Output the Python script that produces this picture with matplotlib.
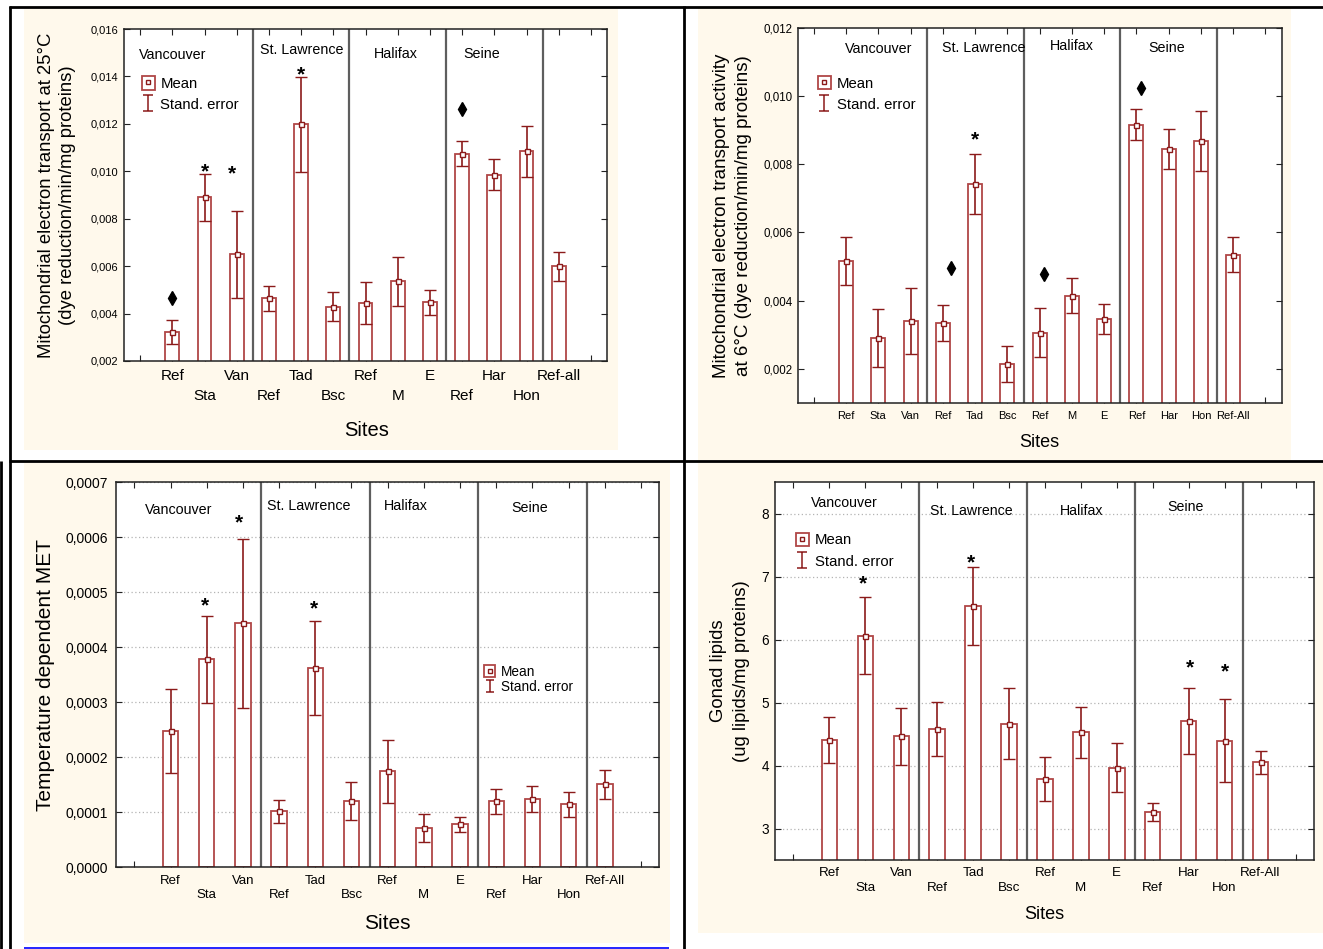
import matplotlib
matplotlib.use('Agg')
import matplotlib.pyplot as plt
import matplotlib.transforms as mtransforms
from matplotlib.patches import Rectangle
from matplotlib.lines import Line2D
from matplotlib.path import Path
from matplotlib.legend_handler import HandlerTuple
import numpy as np

plt.rcParams['font.family'] = ['Liberation Sans', 'DejaVu Sans']

# ---------------- data ----------------
groups = ['Vancouver', 'St. Lawrence', 'Halifax', 'Seine']

sites_a = ['Ref', 'Sta', 'Van', 'Ref', 'Tad', 'Bsc', 'Ref', 'M', 'E', 'Ref', 'Har', 'Hon', 'Ref-all']
sites_b = ['Ref', 'Sta', 'Van', 'Ref', 'Tad', 'Bsc', 'Ref', 'M', 'E', 'Ref', 'Har', 'Hon', 'Ref-All']

# A: Mitochondrial electron transport at 25C
met25_mean = [0.003215, 0.00890, 0.00650, 0.00464, 0.01198, 0.004285, 0.004455,
              0.00537, 0.004475, 0.010745, 0.00986, 0.01085, 0.005985]
met25_se = [0.000515, 0.00099, 0.001825, 0.00054, 0.00199, 0.000615, 0.000895,
            0.00103, 0.000535, 0.000515, 0.00067, 0.00107, 0.000605]
met25_star_idx = [2, 2.85, 5]
met25_star_y = [0.01024, 0.01016, 0.01432]
met25_diam_idx = [1, 10]
met25_diam_y = [0.00467, 0.01264]
met25_yticks = [0.002, 0.004, 0.006, 0.008, 0.010, 0.012, 0.014, 0.016]
met25_yticklabels = ['0,002', '0,004', '0,006', '0,008', '0,010', '0,012', '0,014', '0,016']

# B: Mitochondrial electron transport activity at 6C
met6_mean = [0.00516, 0.002905, 0.00340, 0.00334, 0.00742, 0.002135, 0.00305,
             0.00414, 0.003465, 0.00916, 0.00845, 0.00869, 0.00535]
met6_se = [0.000695, 0.000845, 0.00097, 0.00053, 0.00088, 0.000525, 0.00072,
           0.00051, 0.000445, 0.00045, 0.00059, 0.00088, 0.00050]
met6_star_idx = [5]
met6_star_y = [0.0089]
met6_diam_idx = [4.25, 7.15, 10.15]
met6_diam_y = [0.00496, 0.00478, 0.01024]
met6_yticks = [0.002, 0.004, 0.006, 0.008, 0.010, 0.012]
met6_yticklabels = ['0,002', '0,004', '0,006', '0,008', '0,010', '0,012']

# C: Temperature dependent MET
tdm_mean = [0.0002476, 0.0003782, 0.000444, 0.0001018, 0.0003619, 0.0001203, 0.0001743,
            0.0000715, 0.0000785, 0.000120, 0.0001243, 0.0001143, 0.0001509]
tdm_se = [0.0000767, 0.0000794, 0.0001537, 0.0000212, 0.0000855, 0.0000343, 0.0000573,
          0.0000255, 0.0000135, 0.000023, 0.0000243, 0.0000233, 0.0000261]
tdm_star_idx = [1.95, 2.9, 4.95]
tdm_star_y = [0.000487, 0.000637, 0.000481]
tdm_yticks = [0.0, 0.0001, 0.0002, 0.0003, 0.0004, 0.0005, 0.0006, 0.0007]
tdm_yticklabels = ['0,0000', '0,0001', '0,0002', '0,0003', '0,0004', '0,0005', '0,0006', '0,0007']

# D: Gonad lipids
lip_mean = [4.408, 6.062, 4.4635, 4.58, 6.5335, 4.6675, 3.782, 4.53, 3.9625,
            3.2625, 4.7075, 4.3975, 4.05]
lip_se = [0.363, 0.612, 0.45, 0.43, 0.6235, 0.56, 0.347, 0.405, 0.39,
          0.1455, 0.53, 0.6655, 0.1855]
lip_star_idx = [1.93, 4.95, 11.05, 12]
lip_star_y = [6.98, 7.32, 5.65, 5.59]
lip_yticks = [3, 4, 5, 6, 7, 8]
lip_yticklabels = ['3', '4', '5', '6', '7', '8']

# ---------------- style ----------------
W, H = 1323, 949
CREAM = '#FFF9EC'
BAR_EC = '#B04646'
ERR_C = '#8B1A1A'
SEP_C = '#5E5E5E'

fig = plt.figure(figsize=(W / 100, H / 100), dpi=100)
fig.patch.set_facecolor('white')


def frect(x0, y0, x1, y1):
    return [x0 / W, 1 - y1 / H, (x1 - x0) / W, (y1 - y0) / H]


def bg(x0, y0, x1, y1, color=CREAM):
    r = Rectangle((x0 / W, 1 - y1 / H), (x1 - x0) / W, (y1 - y0) / H,
                  transform=fig.transFigure, fc=color, ec='none', zorder=-10)
    fig.add_artist(r)


def fline(x0, y0, x1, y1, color='black', lw=1.8):
    fig.add_artist(Line2D([x0 / W, x1 / W], [1 - y0 / H, 1 - y1 / H],
                          transform=fig.transFigure, color=color, lw=lw,
                          solid_capstyle='butt', zorder=20))


se_path = Path([(-0.3, -0.5), (0.3, -0.5), (0, -0.5), (0, 0.5), (-0.3, 0.5), (0.3, 0.5)],
               [Path.MOVETO, Path.LINETO, Path.MOVETO, Path.LINETO, Path.MOVETO, Path.LINETO])


def panel(rect, means, ses, labels, ylim, yticks, yticklabels, stagger,
          tickfs, ytickfs, pad1, pad2, ypad, grid, ylabel, ylab_x, ylab_fs, ylab_ls,
          sites_xy, sites_fs, group_pos, group_fs, leg_xy, leg_fs, leg_ls, leg_hh,
          star_idx, star_y, diam_idx=(), diam_y=()):
    ax = fig.add_axes(rect)
    n = len(means)
    x = np.arange(1, n + 1)
    ax.set_xlim(-0.5, n + 1.5)
    ax.set_ylim(*ylim)
    ax.set_facecolor('white')
    if grid:
        ax.set_axisbelow(True)
        ax.yaxis.grid(True, ls=(0, (1, 2)), color='#B4B4B4', lw=0.9)
    ax.bar(x, means, width=0.43, color='white', edgecolor=BAR_EC, linewidth=1.3, zorder=2)
    ax.errorbar(x, means, yerr=ses, fmt='s', ms=3.6, mfc='white', mec=ERR_C, mew=1.0,
                ecolor=ERR_C, elinewidth=1.2, capsize=4, capthick=1.2, zorder=3)
    for s in [3.5, 6.5, 9.5, 12.5]:
        ax.axvline(s, color=SEP_C, lw=1.6, zorder=1.5)
    shift = ax.transData + mtransforms.ScaledTranslation(0, -4.5 / 72, fig.dpi_scale_trans)
    for sx, sy in zip(star_idx, star_y):
        ax.text(sx, sy, '*', ha='center', va='center', fontsize=15, fontweight='bold',
                color='black', zorder=4, transform=shift)
    if len(diam_idx):
        ax.plot(diam_idx, diam_y, ls='none', marker='d', ms=7, color='black', zorder=4)

    # ticks
    ax.set_yticks(yticks, yticklabels, fontsize=ytickfs)
    allpos = np.arange(0, n + 2)
    if stagger:
        maj = [p for p in allpos if p % 2 == 1]
        mino = [p for p in allpos if p % 2 == 0]
        ax.set_xticks(maj, [labels[p - 1] for p in maj], fontsize=tickfs)
        ax.set_xticks(mino, [labels[p - 1] if 1 <= p <= n else '' for p in mino],
                      minor=True, fontsize=tickfs)
    else:
        ax.set_xticks(list(x), labels, fontsize=tickfs)
        ax.set_xticks([0, n + 1], ['', ''], minor=True)
    ax.tick_params(axis='both', which='both', direction='in', top=True, right=True,
                   length=4, width=0.8, color='#222222')
    ax.tick_params(axis='x', which='major', pad=pad1)
    ax.tick_params(axis='x', which='minor', pad=pad2)
    ax.tick_params(axis='y', pad=ypad)
    for sp in ax.spines.values():
        sp.set_color('#222222')
        sp.set_linewidth(1.1)

    ax.set_xlabel('Sites', fontsize=sites_fs, va='center')
    ax.xaxis.set_label_coords(*sites_xy)
    ax.set_ylabel(ylabel, fontsize=ylab_fs, va='center', ha='center', linespacing=ylab_ls)
    ax.yaxis.set_label_coords(ylab_x, 0.5)

    for g, (gx, gy) in zip(groups, group_pos):
        ax.text(gx, gy, g, transform=ax.transAxes, ha='center', va='center', fontsize=group_fs)

    mean_h = (Rectangle((0, 0), 1, 1, fc='white', ec=BAR_EC, lw=1.3),
              Line2D([], [], ls='none', marker='s', ms=3.4, mfc='white', mec=ERR_C, mew=1.0))
    se_h = Line2D([], [], ls='none', marker=se_path, ms=leg_hh * leg_fs * 1.0, mfc='none',
                  mec=ERR_C, mew=1.1)
    ax.legend([mean_h, se_h], ['Mean', 'Stand. error'],
              handler_map={tuple: HandlerTuple(ndivide=1)},
              loc='upper left', bbox_to_anchor=leg_xy, frameon=False, fontsize=leg_fs,
              borderpad=0, borderaxespad=0, handlelength=0.85, handleheight=leg_hh,
              handletextpad=0.4, labelspacing=leg_ls)
    return ax


# backgrounds
bg(24, 9, 618, 450)
bg(698, 8, 1291, 460)
bg(24, 463, 670, 943)
bg(698, 463, 1323, 933)

# Panel A
panel(frect(124, 29, 607, 361), met25_mean, met25_se, sites_a, (0.002, 0.016),
      met25_yticks, met25_yticklabels, True, 11, 8, 5.5, 20.5, 4.3, False,
      'Mitochondrial electron transport at 25°C\n(dye reduction/min/mg proteins)',
      -0.1387, 13.3, 1.3, (0.503, -0.208), 14.5,
      [(0.1014, 0.9217), (0.3685, 0.9367), (0.5621, 0.9247), (0.7412, 0.9247)], 10.3,
      (0.037, 0.859), 10.7, 0.42, 1.05, met25_star_idx, met25_star_y, met25_diam_idx, met25_diam_y)

# Panel B
panel(frect(797.7, 28, 1281.6, 402.7), met6_mean, met6_se, sites_b, (0.001, 0.012),
      met6_yticks, met6_yticklabels, False, 8, 8.3, 5.7, 5.7, 3.6, False,
      'Mitochondrial electron transport activity\nat 6°C (dye reduction/min/mg proteins)',
      -0.135, 13.5, 1.42, (0.5, -0.105), 13,
      [(0.168, 0.944), (0.385, 0.9466), (0.566, 0.952), (0.763, 0.9466)], 10.3,
      (0.042, 0.873), 10.7, 0.42, 1.05, met6_star_idx, met6_star_y, met6_diam_idx, met6_diam_y)

# Panel C
panel(frect(116.2, 482.3, 659.2, 867.3), tdm_mean, tdm_se, sites_b, (0.0, 0.0007),
      tdm_yticks, tdm_yticklabels, True, 9.5, 10, 5.4, 15.8, 5.9, True,
      'Temperature dependent MET',
      -0.130, 15, 1.2, (0.5, -0.1447), 15,
      [(0.1157, 0.928), (0.355, 0.939), (0.5337, 0.939), (0.762, 0.934)], 10.3,
      (0.677, 0.526), 9.8, 0.1, 0.9, tdm_star_idx, tdm_star_y)

# Panel D
panel(frect(775.5, 482.3, 1314.4, 860), lip_mean, lip_se, sites_b, (2.5, 8.5),
      lip_yticks, lip_yticklabels, True, 9.6, 9.8, 4.9, 15.5, 4.5, True,
      'Gonad lipids\n(ug lipids/mg proteins)',
      -0.0839, 13.3, 1.43, (0.4995, -0.143), 13,
      [(0.127, 0.944), (0.364, 0.925), (0.568, 0.925), (0.760, 0.935)], 10.2,
      (0.038, 0.867), 10.7, 0.42, 1.05, lip_star_idx, lip_star_y)

# page borders
fline(9, 6.5, 1323, 6.5, lw=2.0)
fline(10, 5.5, 10, 949, lw=2.0)
fline(1, 461, 1, 949, lw=2.0)
fline(684, 5.5, 684, 949, lw=2.0)
fline(9, 461.5, 1323, 461.5, lw=2.0)
fline(24, 948, 669, 948, color='#0000FF', lw=1.2)

fig.savefig('out.png', dpi=100, facecolor='white')
